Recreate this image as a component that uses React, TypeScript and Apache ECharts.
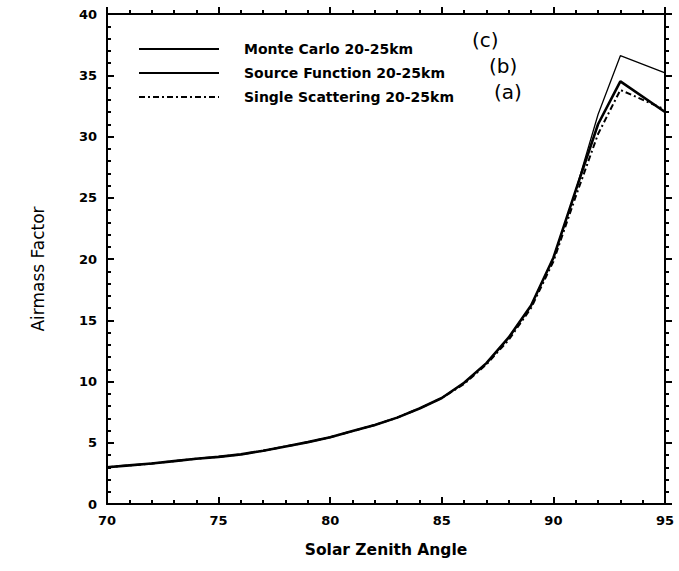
import React, { useEffect, useRef } from "react";
import * as echarts from "echarts";

const angles = [70, 71, 72, 73, 74, 75, 76, 77, 78, 79, 80, 81, 82, 83, 84, 85, 86, 87, 88, 89, 90, 91, 92, 93, 95];
const monteCarlo = [3.0, 3.15, 3.3, 3.5, 3.7, 3.85, 4.05, 4.35, 4.7, 5.05, 5.45, 5.95, 6.45, 7.05, 7.8, 8.65, 9.9, 11.5, 13.6, 16.2, 20.1, 25.6, 31.0, 34.5, 32.0];
const sourceFunction = [3.0, 3.15, 3.3, 3.5, 3.7, 3.85, 4.05, 4.35, 4.7, 5.05, 5.45, 5.95, 6.45, 7.05, 7.8, 8.65, 9.9, 11.5, 13.6, 16.2, 20.1, 25.6, 31.8, 36.6, 35.2];
const singleScattering = [3.0, 3.15, 3.3, 3.5, 3.7, 3.85, 4.05, 4.35, 4.7, 5.05, 5.45, 5.95, 6.45, 7.05, 7.8, 8.65, 9.8, 11.4, 13.4, 16.0, 19.8, 25.1, 30.2, 33.8, 32.2];
const seriesNames = ["Monte Carlo 20-25km", "Source Function 20-25km", "Single Scattering 20-25km"];
const handNotes = ["(c)", "(b)", "(a)"];

const pairs = (ys: number[]) => angles.map((a, i) => [a, ys[i]]);

const FONT = "DejaVu Sans, Liberation Sans, sans-serif";

function makeAxis(min: number, max: number, position: string, inside: boolean, labels: boolean) {
  const line = { show: true, onZero: false, lineStyle: { color: "#000", width: 2 } };
  return {
    type: "value",
    min,
    max,
    interval: 5,
    position,
    axisLine: line,
    axisTick: { show: true, inside, length: 7, lineStyle: { color: "#000", width: 2 } },
    minorTick: { show: true, splitNumber: 5, length: 4, lineStyle: { color: "#000", width: 2 } },
    splitLine: { show: false },
    axisLabel: labels
      ? { color: "#000", fontFamily: FONT, fontWeight: "bold", fontSize: 13, margin: 10 }
      : { show: false },
  };
}

export default function App() {
  const ref = useRef<HTMLDivElement>(null);
  useEffect(() => {
    if (!ref.current) return;
    const chart = echarts.init(ref.current, null, { renderer: "svg" });
    const bottomX: any = makeAxis(70, 95, "bottom", true, true);
    bottomX.name = "Solar Zenith Angle";
    bottomX.nameLocation = "middle";
    bottomX.nameGap = 38;
    bottomX.nameTextStyle = { color: "#000", fontFamily: FONT, fontWeight: "bold", fontSize: 15.5 };
    const topX: any = makeAxis(70, 95, "top", false, false);
    const leftY: any = makeAxis(0, 40, "left", true, true);
    const rightY: any = makeAxis(0, 40, "right", false, false);
    chart.setOption({
      animation: false,
      grid: { left: 107, right: 14, top: 14, bottom: 67, containLabel: false, outerBoundsMode: "none" },
      legend: {
        orient: "vertical",
        left: 133,
        top: 37,
        itemWidth: 80,
        itemHeight: 10,
        itemGap: 10,
        itemStyle: { color: "transparent", borderWidth: 0 },
        textStyle: { fontFamily: FONT, fontWeight: "bold", fontSize: 14, color: "#000", padding: [0, 0, 0, 20] },
        data: seriesNames,
      },
      xAxis: [bottomX, topX],
      yAxis: [leftY, rightY],
      series: [
        {
          name: seriesNames[0],
          type: "line",
          symbol: "none",
          data: pairs(monteCarlo),
          lineStyle: { color: "#000", width: 2.6 },
          itemStyle: { color: "#000" },
          z: 3,
        },
        {
          name: seriesNames[1],
          type: "line",
          symbol: "none",
          data: pairs(sourceFunction),
          lineStyle: { color: "#000", width: 1.3 },
          itemStyle: { color: "#000" },
          z: 2,
        },
        {
          name: seriesNames[2],
          type: "line",
          symbol: "none",
          data: pairs(singleScattering),
          lineStyle: { color: "#000", width: 2, type: [6, 3, 2, 3] },
          itemStyle: { color: "#000" },
          z: 1,
        },
      ],
      graphic: [
        {
          type: "text",
          x: 38,
          y: 269,
          rotation: Math.PI / 2,
          style: { text: "Airmass Factor", font: "17px " + FONT, fill: "#000", align: "center", verticalAlign: "middle" },
        },
        { type: "text", left: 472, top: 30, style: { text: handNotes[0], font: "20px DejaVu Sans, sans-serif", fill: "#000" } },
        { type: "text", left: 489, top: 56, style: { text: handNotes[1], font: "20px DejaVu Sans, sans-serif", fill: "#000" } },
        { type: "text", left: 494, top: 82, style: { text: handNotes[2], font: "20px DejaVu Sans, sans-serif", fill: "#000" } },
      ],
    });
    return () => chart.dispose();
  }, []);
  return <div ref={ref} style={{ width: 679, height: 571, position: "absolute", left: 0, top: 0 }} />;
}
